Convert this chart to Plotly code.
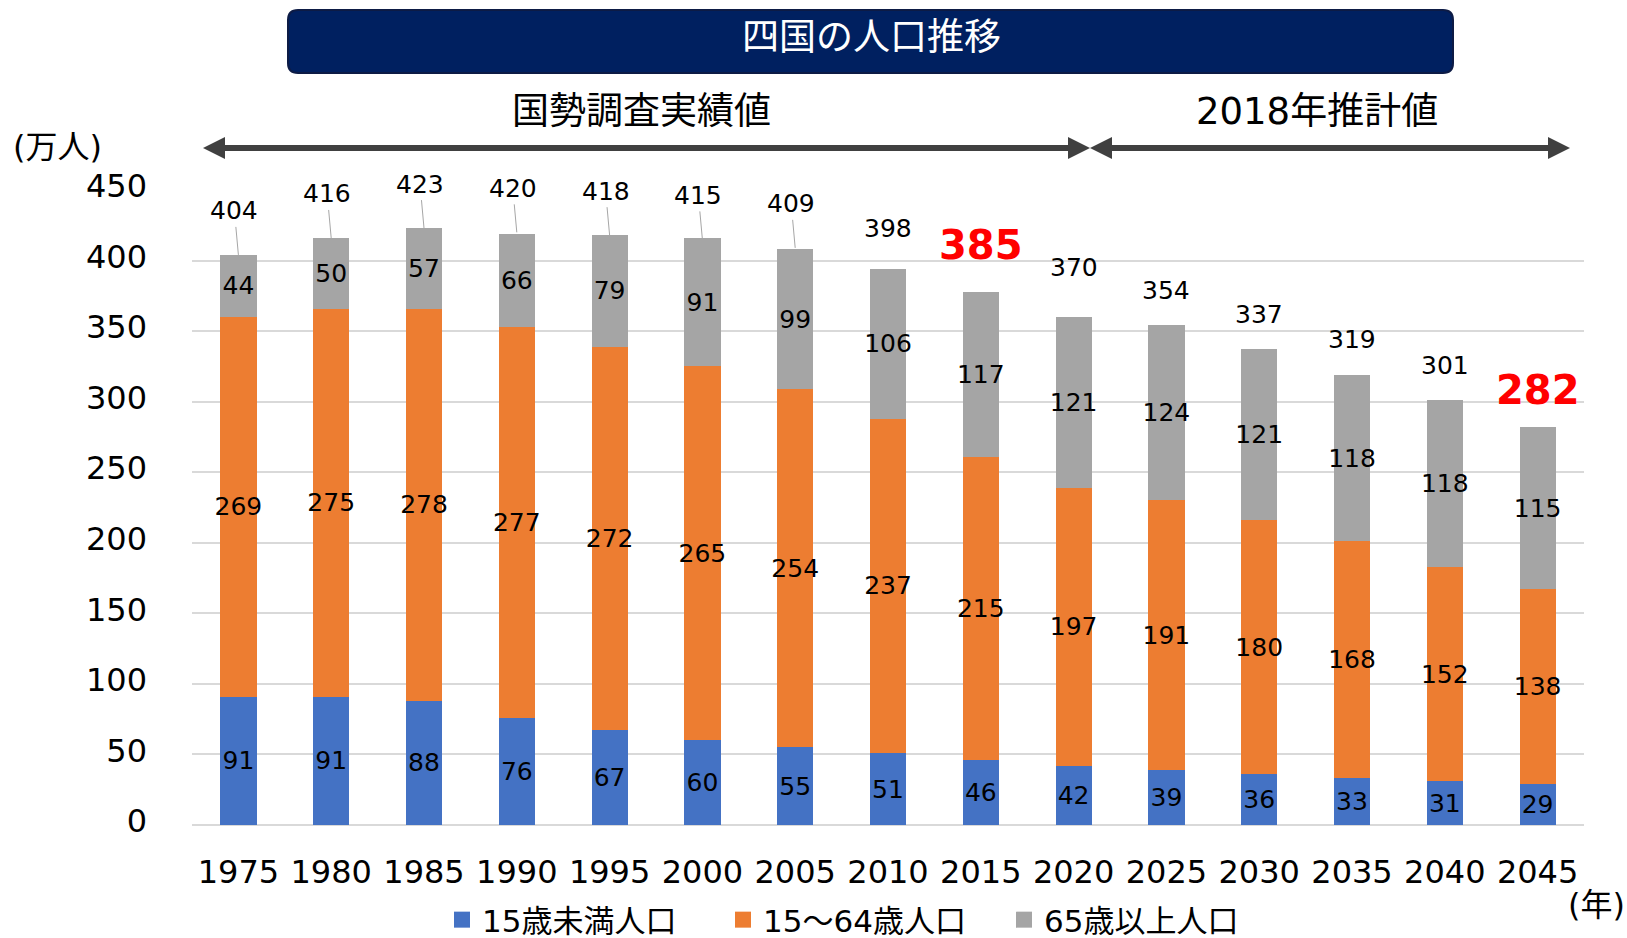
import plotly.graph_objects as go

years = ["1975", "1980", "1985", "1990", "1995", "2000", "2005", "2010",
         "2015", "2020", "2025", "2030", "2035", "2040", "2045"]
under15 = [91, 91, 88, 76, 67, 60, 55, 51, 46, 42, 39, 36, 33, 31, 29]
age15_64 = [269, 275, 278, 277, 272, 265, 254, 237, 215, 197, 191, 180, 168, 152, 138]
over65 = [44, 50, 57, 66, 79, 91, 99, 106, 117, 121, 124, 121, 118, 118, 115]
totals = [404, 416, 423, 420, 418, 415, 409, 398, 385, 370, 354, 337, 319, 301, 282]
highlight_years = ["2015", "2045"]
leader_years = ["1975", "1980", "1985", "1990", "1995", "2000", "2005"]

series_names = ["15歳未満人口", "15～64歳人口", "65歳以上人口"]
colors = ["#4472C4", "#ED7D31", "#A5A5A5"]

FONT = "DejaVu Sans, Noto Sans CJK JP"
W, H = 1627, 938
L, R, T, B = 192, 43, 190, 113
PW, PH = W - L - R, H - T - B


def px(x):
    return (x - L) / PW


def py(y):
    return (H - B - y) / PH


fig = go.Figure()
for name, vals, col in zip(series_names, [under15, age15_64, over65], colors):
    fig.add_trace(go.Bar(
        x=years, y=vals, name=name, marker=dict(color=col, line=dict(width=0)),
        text=[str(v) for v in vals], textposition="inside", insidetextanchor="middle",
        textangle=0, constraintext="none",
        insidetextfont=dict(family=FONT, size=25, color="#000000"),
        showlegend=False, hoverinfo="skip",
    ))
for name, col in zip(series_names, colors):
    # legend proxy (no visible mark)
    fig.add_trace(go.Scatter(
        x=[years[0]], y=[None], mode="markers", name=name,
        marker=dict(symbol="square", size=18, color=col), showlegend=True,
        hoverinfo="skip",
    ))

annotations = []
for i, (yr, tot) in enumerate(zip(years, totals)):
    if yr in highlight_years:
        annotations.append(dict(
            x=i, y=tot, xref="x", yref="y", text=f"<b>{tot}</b>", showarrow=False,
            yshift=37, xanchor="center", yanchor="middle",
            font=dict(family=FONT, size=40, color="#FF0000"),
        ))
    elif yr in leader_years:
        annotations.append(dict(
            x=i, y=tot, xref="x", yref="y", text=str(tot), showarrow=True,
            ax=-4, ay=-44, arrowhead=0, arrowwidth=1, arrowcolor="#A6A6A6",
            standoff=0, font=dict(family=FONT, size=25, color="#000000"),
        ))
    else:
        annotations.append(dict(
            x=i, y=tot, xref="x", yref="y", text=str(tot), showarrow=False,
            yshift=35, xanchor="center", yanchor="middle",
            font=dict(family=FONT, size=25, color="#000000"),
        ))


def label(x, y, text, size, color="#000000"):
    return dict(x=px(x), y=py(y), xref="paper", yref="paper", text=text,
                showarrow=False, xanchor="center", yanchor="middle",
                font=dict(family=FONT, size=size, color=color))


annotations += [
    label(871, 38, "四国の人口推移", 37, "#FFFFFF"),
    label(641, 111, "国勢調査実績値", 37),
    label(1317, 111, "2018年推計値", 37),
    label(57, 147, "(万人)", 32),
    label(1596, 905, "(年)", 32),
]

shapes = []
# rounded title box
x0, x1, y0, y1, r = 288, 1453, 10, 73, 10
rx, ry = r / PW, r / PH
X0, X1, Y0, Y1 = px(x0), px(x1), py(y0), py(y1)  # Y0 top, Y1 bottom
path = (f"M {X0+rx},{Y0} L {X1-rx},{Y0} Q {X1},{Y0} {X1},{Y0-ry} "
        f"L {X1},{Y1+ry} Q {X1},{Y1} {X1-rx},{Y1} L {X0+rx},{Y1} "
        f"Q {X0},{Y1} {X0},{Y1+ry} L {X0},{Y0-ry} Q {X0},{Y0} {X0+rx},{Y0} Z")
shapes.append(dict(type="path", xref="paper", yref="paper", path=path,
                   fillcolor="#002060", line=dict(color="#0D1B45", width=2), layer="below"))

# arrows
ay_ = 148
hl, hh = 22, 11
ARROW = "#404040"


def arrow(xa, xb):
    out = [dict(type="line", xref="paper", yref="paper", x0=px(xa + hl - 2), x1=px(xb - hl + 2),
                y0=py(ay_), y1=py(ay_), line=dict(color=ARROW, width=6))]
    for tip, base in ((xa, xa + hl), (xb, xb - hl)):
        p = (f"M {px(tip)},{py(ay_)} L {px(base)},{py(ay_ - hh)} "
             f"L {px(base)},{py(ay_ + hh)} Z")
        out.append(dict(type="path", xref="paper", yref="paper", path=p,
                        fillcolor=ARROW, line=dict(width=0)))
    return out


shapes += arrow(203, 1090)
shapes += arrow(1090, 1570)

fig.update_layout(
    width=W, height=H, margin=dict(l=L, r=R, t=T, b=B, autoexpand=False),
    barmode="stack", bargap=0.61,
    plot_bgcolor="#FFFFFF", paper_bgcolor="#FFFFFF",
    font=dict(family=FONT, color="#000000"),
    annotations=annotations, shapes=shapes,
    legend=dict(orientation="h", x=px(442), y=py(920), xanchor="left", yanchor="middle",
                traceorder="normal",
                font=dict(family=FONT, size=31, color="#000000"),
                entrywidth=236, entrywidthmode="pixels", itemclick=False,
                bgcolor="rgba(0,0,0,0)"),
    xaxis=dict(type="category", range=[-0.5, len(years) - 0.5], showgrid=False,
               showline=False, zeroline=False,
               tickfont=dict(family=FONT, size=32, color="#000000"),
               ticks="", ticklabelstandoff=25, fixedrange=True),
    yaxis=dict(range=[0, 450], dtick=50, showgrid=True, gridcolor="#D9D9D9", gridwidth=2,
               zeroline=True, zerolinecolor="#D9D9D9", zerolinewidth=2, showline=False,
               tickfont=dict(family=FONT, size=32, color="#000000"),
               ticks="", ticklabelstandoff=44, ticklabelshift=-4, fixedrange=True),
)

fig.write_html("out.html", post_script="document.body.style.margin='0';",
               config={"displayModeBar": False})
